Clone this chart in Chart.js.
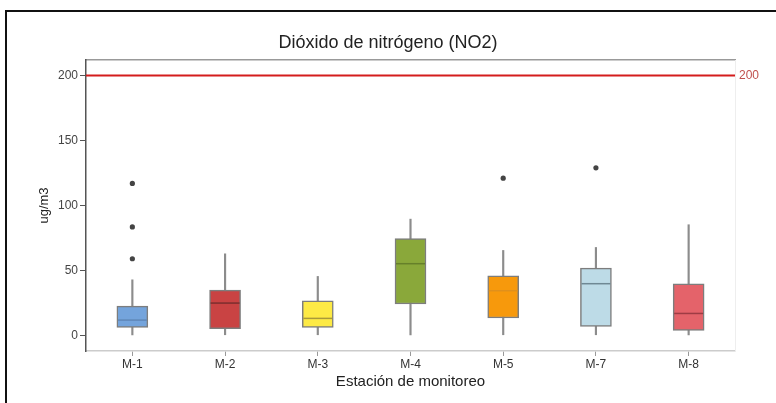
<!DOCTYPE html>
<html>
<head>
<meta charset="utf-8">
<script src="https://cdn.jsdelivr.net/npm/chart.js@4"></script>
<style>
  html,body{margin:0;padding:0;background:#fff;}
  #wrap{position:relative;width:776px;height:403px;}
  #frame{position:absolute;left:5px;top:10px;right:0;bottom:0;border-left:2px solid #111;border-top:2px solid #111;}
  canvas{position:absolute;left:0;top:0;}
</style>
</head>
<body>
<div id="wrap"><div id="frame"></div><canvas id="c" width="776" height="403"></canvas></div>
<script>
const categories = ['M-1','M-2','M-3','M-4','M-5','M-7','M-8'];
const whiskerLow  = [0, 0.5, 0.5, 0, 0.5, 0.5, 0];
const q1          = [6.2, 5.1, 6.2, 24.2, 13.4, 6.9, 3.9];
const median      = [11.8, 24.9, 13.1, 55.2, 34.4, 39.8, 16.9];
const q3          = [22.6, 34.9, 26.7, 74.6, 45.9, 51.8, 39.8];
const whiskerHigh = [42.8, 62.8, 45.4, 89.5, 65.4, 67.7, 85.2];
const outlierCats = ['M-1','M-1','M-1','M-5','M-7'];
const outlierVals = [117, 83.5, 59, 121, 129];
const limitValue  = 200;
const yTicks      = [0, 50, 100, 150, 200];

const fillColors   = ['#74a4dc','#c94343','#fdea45','#8aa83a','#f7990c','#bddbe7','#e4636a'];
const medianColors = ['#5f87b8','#7c2e2e','#a8993a','#66802a','#e0901c','#6f8894','#9e3c44'];

const ctx = document.getElementById('c');
new Chart(ctx, {
  data: {
    labels: categories,
    datasets: [
      {
        type: 'bar', order: 4, grouped: false,
        data: categories.map((c,i)=>[whiskerLow[i], whiskerHigh[i]]),
        backgroundColor: '#8c8c8c', barThickness: 1.5, borderWidth: 0
      },
      {
        type: 'bar', order: 3, grouped: false,
        data: categories.map((c,i)=>[q1[i], q3[i]]),
        backgroundColor: fillColors, borderColor: '#7d7d7d', borderWidth: 1.5,
        borderSkipped: false, barThickness: 31
      },
      {
        type: 'line', order: 2, showLine: false,
        data: median,
        pointStyle: 'line', pointRadius: 14.5, pointHoverRadius: 14.5,
        pointBorderColor: medianColors, pointBorderWidth: 1.5
      },
      {
        type: 'line', order: 1, showLine: false,
        data: outlierCats.map((c,i)=>({x:c, y:outlierVals[i]})),
        pointRadius: 2.6, pointBackgroundColor: '#444', pointBorderWidth: 0
      },
      {
        type: 'line', order: 0, xAxisID: 'xl',
        data: [{x:0, y:limitValue}, {x:1, y:limitValue}],
        borderColor: '#d41c1c', borderWidth: 2, pointRadius: 0
      }
    ]
  },
  options: {
    responsive: false, animation: false,
    layout: { padding: 0 },
    plugins: {
      legend: { display: false },
      tooltip: { enabled: false },
      title: {
        display: true, text: 'Dióxido de nitrógeno (NO2)',
        color: '#222', font: { family: 'Liberation Sans', size: 18, weight: 'normal' },
        padding: { top: 32, bottom: 6.4 }
      }
    },
    scales: {
      x: {
        type: 'category', position: 'bottom', offset: true,
        grid: { display: true, offset: false, drawOnChartArea: false, tickLength: 5, tickColor: '#999', tickWidth: 1 },
        border: { display: true, color: '#cccccc', width: 1.5 },
        ticks: { color: '#333', font: { family: 'Liberation Sans', size: 12 }, padding: 1 },
        title: { display: true, text: 'Estación de monitoreo', color: '#222',
                 font: { family: 'Liberation Sans', size: 15 }, padding: { top: 0, bottom: 12 } },
        afterFit: s => { s.height = 52; }
      },
      xl: {
        type: 'linear', position: 'top', min: 0, max: 1, display: true,
        grid: { display: false }, ticks: { display: false },
        border: { display: true, color: '#999', width: 1.5 },
        afterFit: s => { s.height = 0; }
      },
      y: {
        type: 'linear', position: 'left', min: -12, max: 212,
        afterBuildTicks: s => { s.ticks = yTicks.map(v=>({value:v})); },
        grid: { display: true, drawOnChartArea: false, tickLength: 6, tickColor: '#555', tickWidth: 1 },
        border: { display: true, color: '#555', width: 1.5 },
        ticks: { color: '#444', font: { family: 'Liberation Sans', size: 12 }, padding: 2 },
        title: { display: true, text: 'ug/m3', color: '#222',
                 font: { family: 'Liberation Sans', size: 13 }, padding: { top: 37, bottom: 0 } },
        afterFit: s => { s.width = 86; }
      },
      y2: {
        type: 'linear', position: 'right', min: -12, max: 212,
        afterBuildTicks: s => { s.ticks = [{value: limitValue}]; },
        grid: { display: false },
        border: { display: true, color: '#eeeeee', width: 1 },
        ticks: { color: '#c0504d', font: { family: 'Liberation Sans', size: 12 }, padding: -4 },
        afterFit: s => { s.width = 41; }
      }
    }
  }
});
</script>
</body>
</html>
